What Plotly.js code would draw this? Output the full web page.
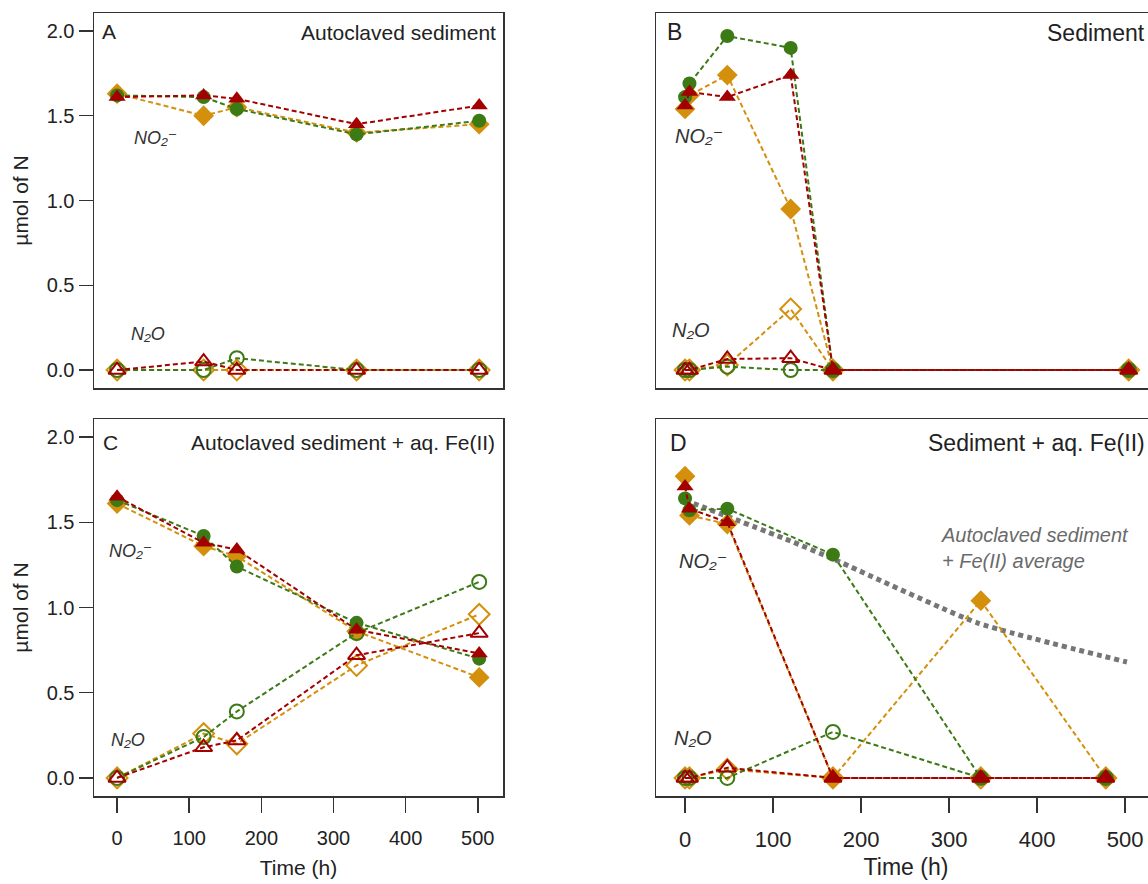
<!DOCTYPE html>
<html><head><meta charset="utf-8">
<script src="https://cdn.plot.ly/plotly-3.0.1.min.js"></script>
<style>html,body{margin:0;padding:0;overflow:hidden;background:#fff}</style>
</head><body><div id="chart" style="width:1160px;height:884px"></div>
<script>
// ---- data ----
const timeA = [0, 120, 166, 332, 502];
const no2A_orange = [1.63, 1.50, 1.55, 1.40, 1.45];
const no2A_green  = [1.62, 1.61, 1.54, 1.39, 1.47];
const no2A_red    = [1.61, 1.62, 1.60, 1.45, 1.56];
const n2oA_orange = [0, 0, 0, 0, 0];
const n2oA_green  = [0, 0, 0.07, 0, 0];
const n2oA_red    = [0, 0.05, 0, 0, 0];

const timeB = [0, 5, 48, 120, 168, 504];
const no2B_orange = [1.54, 1.62, 1.74, 0.95, 0, 0];
const no2B_green  = [1.61, 1.69, 1.97, 1.90, 0, 0];
const no2B_red    = [1.56, 1.64, 1.61, 1.74, 0, 0];
const n2oB_orange = [0, 0, 0.03, 0.36, 0, 0];
const n2oB_green  = [0, 0, 0.02, 0, 0, 0];
const n2oB_red    = [0, 0, 0.065, 0.07, 0, 0];

const timeC = [0, 120, 166, 332, 502];
const no2C_orange = [1.61, 1.36, 1.30, 0.86, 0.59];
const no2C_green  = [1.63, 1.42, 1.24, 0.91, 0.70];
const no2C_red    = [1.65, 1.38, 1.34, 0.87, 0.73];
const n2oC_orange = [0, 0.26, 0.20, 0.66, 0.96];
const n2oC_green  = [0, 0.24, 0.39, 0.85, 1.15];
const n2oC_red    = [0, 0.18, 0.22, 0.72, 0.85];

const timeD = [0, 5, 48, 168, 336, 478];
const no2D_orange = [1.77, 1.54, 1.49, 0, 1.04, 0];
const no2D_green  = [1.64, 1.57, 1.58, 1.31, 0, 0];
const no2D_red    = [1.71, 1.58, 1.50, 0, 0, 0];
const n2oD_orange = [0, 0, 0.05, 0, 0, 0];
const n2oD_green  = [0, 0, 0, 0.27, 0, 0];
const n2oD_red    = [0, 0, 0.06, 0, 0, 0];

const avgTime = [0, 120, 166, 332, 502];
const avgAutoclavedFe = [1.63, 1.39, 1.29, 0.91, 0.68];

const yTicks = [0, 0.5, 1.0, 1.5, 2.0];
const xTicks = [0, 100, 200, 300, 400, 500];

// ---- styling ----
const W = 1160, H = 884;
const FONT = 'Liberation Sans, Arial, DejaVu Sans, sans-serif';
const COL = {orange: '#d4900c', green: '#3c7a16', red: '#a30000'};
const SYM = {orange: 'diamond', green: 'circle', red: 'triangle-up'};
const SIZE = {orange: 16, green: 14, red: 15};
const px = v => v / W, py = v => 1 - v / H;

const traces = [];
function addPanel(ax, t, no2, n2o) {
  ['orange', 'green', 'red'].forEach(c => {
    traces.push({
      x: t, y: no2[c], xaxis: 'x' + ax, yaxis: 'y' + ax, type: 'scatter', mode: 'lines+markers',
      line: {color: COL[c], width: 2, dash: '5px,3px'},
      marker: {symbol: SYM[c], size: SIZE[c], color: COL[c], line: {width: 0}},
      showlegend: false, cliponaxis: false
    });
    traces.push({
      x: t, y: n2o[c], xaxis: 'x' + ax, yaxis: 'y' + ax, type: 'scatter', mode: 'lines+markers',
      line: {color: COL[c], width: 2, dash: '5px,3px'},
      marker: {symbol: SYM[c] + '-open', size: SIZE[c], color: COL[c], line: {width: 2, color: COL[c]}},
      showlegend: false, cliponaxis: false
    });
  });
}
addPanel('', timeA, {orange: no2A_orange, green: no2A_green, red: no2A_red}, {orange: n2oA_orange, green: n2oA_green, red: n2oA_red});
addPanel('2', timeB, {orange: no2B_orange, green: no2B_green, red: no2B_red}, {orange: n2oB_orange, green: n2oB_green, red: n2oB_red});
addPanel('3', timeC, {orange: no2C_orange, green: no2C_green, red: no2C_red}, {orange: n2oC_orange, green: n2oC_green, red: n2oC_red});
traces.push({
  x: avgTime, y: avgAutoclavedFe, xaxis: 'x4', yaxis: 'y4', type: 'scatter', mode: 'lines',
  line: {color: '#767676', width: 5, dash: '5px,4px', shape: 'spline', smoothing: 0.5}, showlegend: false
});
addPanel('4', timeD, {orange: no2D_orange, green: no2D_green, red: no2D_red}, {orange: n2oD_orange, green: n2oD_green, red: n2oD_red});

const leftDom = [px(94), px(503)], rightDom = [px(656), px(1156)];
const topDom = [py(388), py(13)], botDom = [py(796), py(419)];
const yRange = [-0.106, 2.106];
const xRangeL = [-32, 535], xRangeR = [-33, 535];

function xax(dom, range, anchor, labels, fs, stand) {
  const a = {domain: dom, range: range, anchor: anchor, showgrid: false, zeroline: false,
    showline: true, mirror: true, linecolor: '#333', linewidth: 1.5,
    tickvals: xTicks, ticks: labels ? 'outside' : '', ticklen: 15, tickwidth: 1.5, tickcolor: '#333',
    ticklabelstandoff: 8,
    showticklabels: labels, tickfont: {family: FONT, size: fs, color: '#222'}};
  if (labels) a.title = {text: 'Time (h)', font: {family: FONT, size: fs + 1, color: '#222'}, standoff: stand};
  return a;
}
function yax(dom, anchor, labels) {
  const a = {domain: dom, range: yRange, anchor: anchor, showgrid: false, zeroline: false,
    showline: true, mirror: true, linecolor: '#333', linewidth: 1.5,
    tickvals: yTicks, tickformat: '.1f', ticks: labels ? 'outside' : '', ticklen: 14, tickwidth: 1.5, tickcolor: '#333',
    showticklabels: labels, tickfont: {family: FONT, size: 20, color: '#222'}};
  if (labels) a.title = {text: 'µmol of N', font: {family: FONT, size: 21, color: '#222'}, standoff: 12};
  return a;
}

function ann(text, x, y, xanchor, size, extra) {
  return Object.assign({text: text, x: px(x), y: py(y), xref: 'paper', yref: 'paper',
    xanchor: xanchor, yanchor: 'middle', showarrow: false,
    font: {family: FONT, size: size, color: '#222'}}, extra || {});
}
const ital = (size) => ({font: {family: FONT, size: size, color: '#333', style: 'italic'}});
const NO2 = 'NO\u2082\u207B';
const N2O = 'N\u2082O';

const annotations = [
  ann('A', 100, 32, 'left', 21),
  ann('Autoclaved sediment', 498, 33, 'right', 21),
  ann('B', 665, 32, 'left', 23),
  ann('Sediment', 1147, 33, 'right', 23),
  ann('C', 101, 442, 'left', 21),
  ann('Autoclaved sediment + aq. Fe(II)', 497, 442, 'right', 21),
  ann('D', 668, 443, 'left', 23),
  ann('Sediment + aq. Fe(II)', 1147, 443, 'right', 23),
  ann(NO2, 132, 138, 'left', 18, ital(18)),
  ann(N2O, 129, 334, 'left', 18, ital(18)),
  ann(NO2, 673, 136, 'left', 20, ital(20)),
  ann(N2O, 670, 330, 'left', 20, ital(20)),
  ann(NO2, 107, 551, 'left', 18, ital(18)),
  ann(N2O, 109, 740, 'left', 18, ital(18)),
  ann(NO2, 677, 561, 'left', 20, ital(20)),
  ann(N2O, 672, 738, 'left', 20, ital(20)),
  ann('Autoclaved sediment<br>+ Fe(II) average', 939, 548, 'left', 20,
      {align: 'left', font: {family: FONT, size: 20, color: '#6a6a6a', style: 'italic'}})
];

const layout = {
  width: W, height: H, margin: {l: 0, r: 0, t: 0, b: 0}, paper_bgcolor: '#fff', plot_bgcolor: '#fff',
  showlegend: false, font: {family: FONT},
  xaxis: xax(leftDom, xRangeL, 'y', false, 20, 0),
  yaxis: yax(topDom, 'x', true),
  xaxis2: xax(rightDom, xRangeR, 'y2', false, 22, 0),
  yaxis2: yax(topDom, 'x2', false),
  xaxis3: xax(leftDom, xRangeL, 'y3', true, 20, 13),
  yaxis3: yax(botDom, 'x3', true),
  xaxis4: xax(rightDom, xRangeR, 'y4', true, 22, 8),
  yaxis4: yax(botDom, 'x4', false),
  annotations: annotations
};
Plotly.newPlot('chart', traces, layout, {displayModeBar: false, staticPlot: true});
</script></body></html>
